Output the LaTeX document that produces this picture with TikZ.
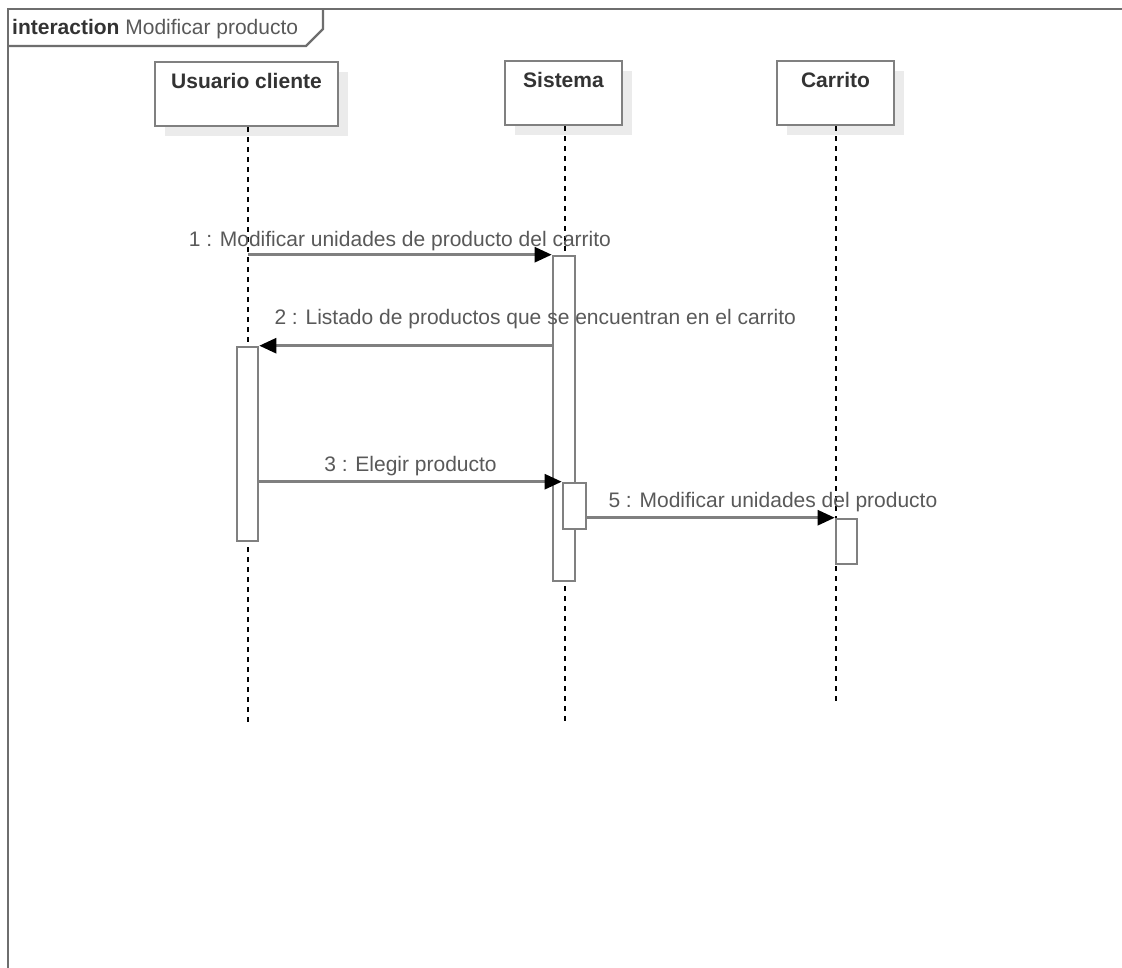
\documentclass[tikz,border=0pt]{standalone}
\usepackage{fontspec}
\setmainfont{Liberation Sans}
\usetikzlibrary{arrows.meta,calc,shadows}
\definecolor{linec}{HTML}{808080}
\definecolor{framec}{HTML}{6E6E6E}
\definecolor{txtc}{HTML}{595959}
\definecolor{headtxt}{HTML}{333333}
\definecolor{shadowc}{HTML}{EBEBEB}
\begin{document}
\begin{tikzpicture}[x=1pt,y=-1pt, font=\fontsize{21}{25}\selectfont,
 frame/.style={draw=framec, line width=2.2pt},
 head/.style={draw=linec, line width=2.8pt, fill=white, minimum width=#1, minimum height=64pt, inner sep=0pt,
   drop shadow={shadow xshift=10pt, shadow yshift=-10pt, fill=shadowc, opacity=1}},
 headlabel/.style={anchor=base, text=headtxt, inner sep=0pt, font=\fontsize{21}{25}\selectfont\bfseries},
 act/.style={draw=linec, line width=2.6pt, fill=white, inner sep=0pt},
 life/.style={draw=black, line width=1.5pt, dash pattern=on 5pt off 5pt},
 msg/.style={draw=linec, line width=2.6pt, -{Triangle[length=17pt,width=15pt,color=black]}},
 msglabel/.style={anchor=base, text=txtc, inner sep=0pt},
]
\useasboundingbox (0,0) rectangle (1122,967);
\clip (0,0) rectangle (1122,967);
\fill[white] (0,0) rectangle (1122,967);

% frame
\draw[frame] (8,990) -- (8,9) -- (1140,9);
\draw[frame] (8,46) -- (306,46) -- (323,29) -- (323,9);
\node[anchor=base west, inner sep=0pt, text=headtxt] (ftitle) at (12,34)
  {\textbf{interaction} {\color{txtc}Modificar producto}};

% lifeline heads
\node[head=183pt] (uc) at (246.5,94) {};
\node[headlabel] (uct) at ($(uc.north)+(0,28)$) {Usuario cliente};
\node[head=117pt] (si) at (563.5,93) {};
\node[headlabel] (sit) at ($(si.north)+(0,28)$) {Sistema};
\node[head=117pt] (ca0) at (835.5,93) {};
\node[headlabel] (cat) at ($(ca0.north)+(0,28)$) {Carrito};

% lifelines
\coordinate (ucend) at (248,722);
\coordinate (siend) at (565,722);
\coordinate (caend) at (836,705);
\draw[life] (uc.south -| ucend) -- (ucend);
\draw[life] (si.south -| siend) -- (siend);
\draw[life] (ca0.south -| caend) -- (caend);

% activations
\node[act, minimum width=22pt, minimum height=325pt] (sa) at (564,418.5) {};
\node[act, minimum width=21pt, minimum height=194pt] (ua) at (247.5,444) {};
\node[act, minimum width=23pt, minimum height=46pt] (sb) at (574.5,506) {};
\node[act, minimum width=21pt, minimum height=45pt] (ca) at (846.5,541.5) {};

% messages
\draw[msg] (ucend |- sa.north) -- (sa.north west);
\node[msglabel] (l1) at ($(ucend |- sa.north)!0.5!(sa.north west)+(0,-8)$)
  {1 : Modificar unidades de producto del carrito};

\draw[msg] (sa.west |- ua.north) -- (ua.north east);
\node[msglabel, anchor=base west] (l2) at ($(ua.north east)+(15,-21)$)
  {2 : Listado de productos que se encuentran en el carrito};

\draw[msg] (ua.east |- sb.north) -- (sb.north west);
\node[msglabel] (l3) at ($(ua.east |- sb.north)!0.5!(sb.north west)+(0,-10)$)
  {3 : Elegir producto};

\draw[msg] (sb.east |- ca.north) -- (ca.north west);
\node[msglabel, anchor=base west] (l5) at ($(sb.east |- ca.north)+(21,-10)$)
  {5 : Modificar unidades del producto};
\end{tikzpicture}
\end{document}
